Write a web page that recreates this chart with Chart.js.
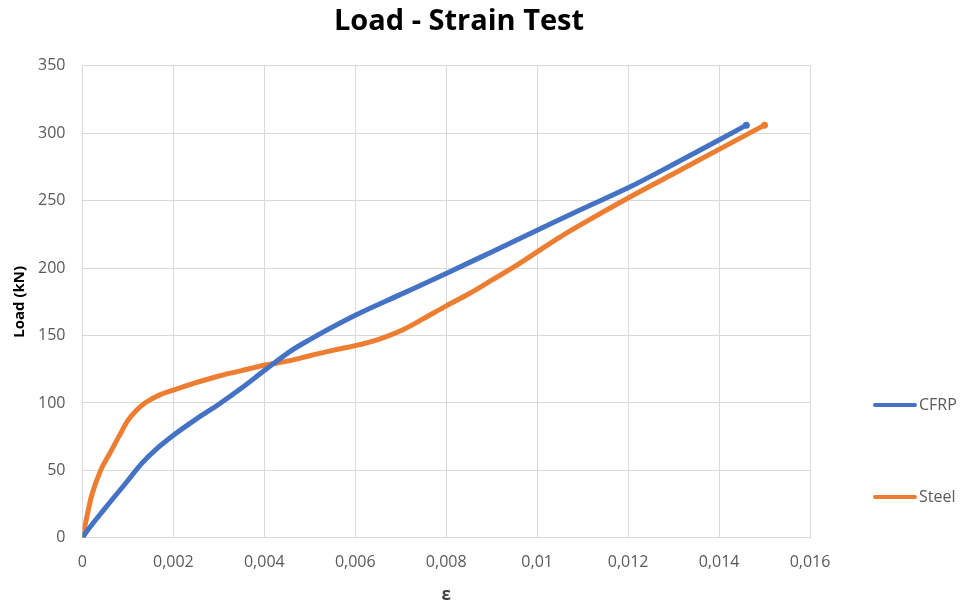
<!DOCTYPE html>
<html>
<head>
<meta charset="utf-8">
<script src="https://cdn.jsdelivr.net/npm/chart.js@4"></script>
<style>
  html, body { margin: 0; padding: 0; background: #ffffff; }
  #wrap { width: 970px; height: 605px; }
</style>
</head>
<body>
<div id="wrap"><canvas id="c" width="970" height="605"></canvas></div>
<script>
const chartTitle = 'Load - Strain Test';
const xAxisTitle = 'ε';
const yAxisTitle = 'Load (kN)';
const seriesNames = ['CFRP', 'Steel'];
const seriesColors = ['#4472C4', '#ED7D31'];
const xTickLabels = ['0', '0,002', '0,004', '0,006', '0,008', '0,01', '0,012', '0,014', '0,016'];
const yTickLabels = ['0', '50', '100', '150', '200', '250', '300', '350'];

const cfrpStrain = [0, 0.0001, 0.0005, 0.001, 0.0013, 0.0016, 0.002, 0.0025, 0.003, 0.0035, 0.004, 0.0046, 0.005, 0.006, 0.007, 0.008, 0.009, 0.01, 0.011, 0.012, 0.013, 0.014, 0.0146];
const cfrpLoad   = [0, 5, 22, 42.5, 55, 65, 76, 88, 99, 111, 124, 139, 147, 165, 180.5, 196, 212, 228, 244, 259.5, 277, 295, 306];

const steelStrain = [0, 0.00005, 0.0001, 0.0002, 0.0004, 0.0006, 0.0008, 0.001, 0.0012, 0.0014, 0.0017, 0.002, 0.0025, 0.003, 0.0035, 0.004, 0.0045, 0.005, 0.0055, 0.006, 0.0065, 0.007, 0.0075, 0.008, 0.0085, 0.009, 0.0095, 0.01, 0.0105, 0.011, 0.012, 0.013, 0.014, 0.015];
const steelLoad   = [0, 8, 16, 31, 50, 62.5, 75, 87, 95, 100.5, 106, 109.5, 115, 120, 124, 128, 131, 135, 139, 142.5, 147, 153.5, 162.5, 172, 181, 191, 201, 212, 223, 233, 252, 270, 288, 306];

const toPoints = (xs, ys) => xs.map((x, i) => ({ x: x, y: ys[i] }));
const xTickValues = xTickLabels.map(s => parseFloat(s.replace(',', '.')));
const yTickValues = yTickLabels.map(Number);

const FONT = "'Open Sans', 'DejaVu Sans', sans-serif";

const sideLegend = {
  id: 'sideLegend',
  afterDraw(chart) {
    const ctx = chart.ctx;
    const x0 = chart.width - 97;
    const ys = [405, 497];
    ctx.save();
    chart.data.datasets.forEach((ds, i) => {
      ctx.strokeStyle = ds.borderColor;
      ctx.lineWidth = 4;
      ctx.lineCap = 'round';
      ctx.beginPath();
      ctx.moveTo(x0 + 2, ys[i]);
      ctx.lineTo(x0 + 42, ys[i]);
      ctx.stroke();
      ctx.fillStyle = '#595959';
      ctx.font = "16px " + FONT;
      ctx.textBaseline = 'middle';
      ctx.textAlign = 'left';
      ctx.fillText(ds.label, x0 + 46, ys[i]);
    });
    ctx.restore();
  }
};

const endPoint = (n, r) => (c) => (c.dataIndex === n - 1 ? r : 0);

new Chart(document.getElementById('c'), {
  type: 'line',
  data: {
    datasets: [
      {
        label: seriesNames[0],
        data: toPoints(cfrpStrain, cfrpLoad),
        borderColor: seriesColors[0],
        backgroundColor: seriesColors[0],
        borderWidth: 5,
        cubicInterpolationMode: 'monotone',
        pointRadius: endPoint(cfrpStrain.length, 3.5),
        pointBorderWidth: 0,
        pointHoverRadius: 0,
        fill: false
      },
      {
        label: seriesNames[1],
        data: toPoints(steelStrain, steelLoad),
        borderColor: seriesColors[1],
        backgroundColor: seriesColors[1],
        borderWidth: 5,
        cubicInterpolationMode: 'monotone',
        pointRadius: endPoint(steelStrain.length, 3.5),
        pointBorderWidth: 0,
        pointHoverRadius: 0,
        fill: false
      }
    ]
  },
  options: {
    responsive: false,
    animation: false,
    events: [],
    layout: { padding: { left: 4, right: 56, top: 0, bottom: 0 } },
    plugins: {
      legend: { display: false },
      tooltip: { enabled: false },
      title: {
        display: true,
        text: chartTitle,
        color: '#000000',
        font: { family: FONT, size: 29, weight: 'bold' },
        padding: { top: 4, bottom: 27 }
      }
    },
    scales: {
      x: {
        type: 'linear',
        min: 0,
        max: 0.016,
        afterBuildTicks(scale) { scale.ticks = xTickValues.map(v => ({ value: v })); },
        ticks: {
          color: '#595959',
          font: { family: FONT, size: 16 },
          padding: 15,
          maxRotation: 0,
          callback: (v, i) => xTickLabels[i]
        },
        grid: { color: '#d9d9d9', lineWidth: 1, drawTicks: false },
        border: { color: '#d9d9d9', width: 1 },
        title: {
          display: true,
          text: xAxisTitle,
          color: '#404040',
          font: { family: FONT, size: 17, weight: 'bold', lineHeight: 1 },
          padding: { top: 0, bottom: 1 }
        }
      },
      y: {
        type: 'linear',
        min: 0,
        max: 350,
        afterBuildTicks(scale) { scale.ticks = yTickValues.map(v => ({ value: v })); },
        ticks: {
          color: '#595959',
          font: { family: FONT, size: 16 },
          padding: 17,
          callback: (v, i) => yTickLabels[i]
        },
        grid: { color: '#d9d9d9', lineWidth: 1, drawTicks: false },
        border: { color: '#d9d9d9', width: 1 },
        title: {
          display: true,
          text: yAxisTitle,
          color: '#000000',
          font: { family: FONT, size: 15, weight: 'bold' },
          padding: { top: 7, bottom: -8 }
        }
      },
      legendSpace: {
        type: 'linear',
        position: 'right',
        min: 0,
        max: 1,
        grid: { display: false, drawOnChartArea: false, drawTicks: false },
        border: { display: false },
        ticks: { display: false },
        afterFit(scale) { scale.width = 104; }
      }
    }
  },
  plugins: [sideLegend]
});
</script>
</body>
</html>
